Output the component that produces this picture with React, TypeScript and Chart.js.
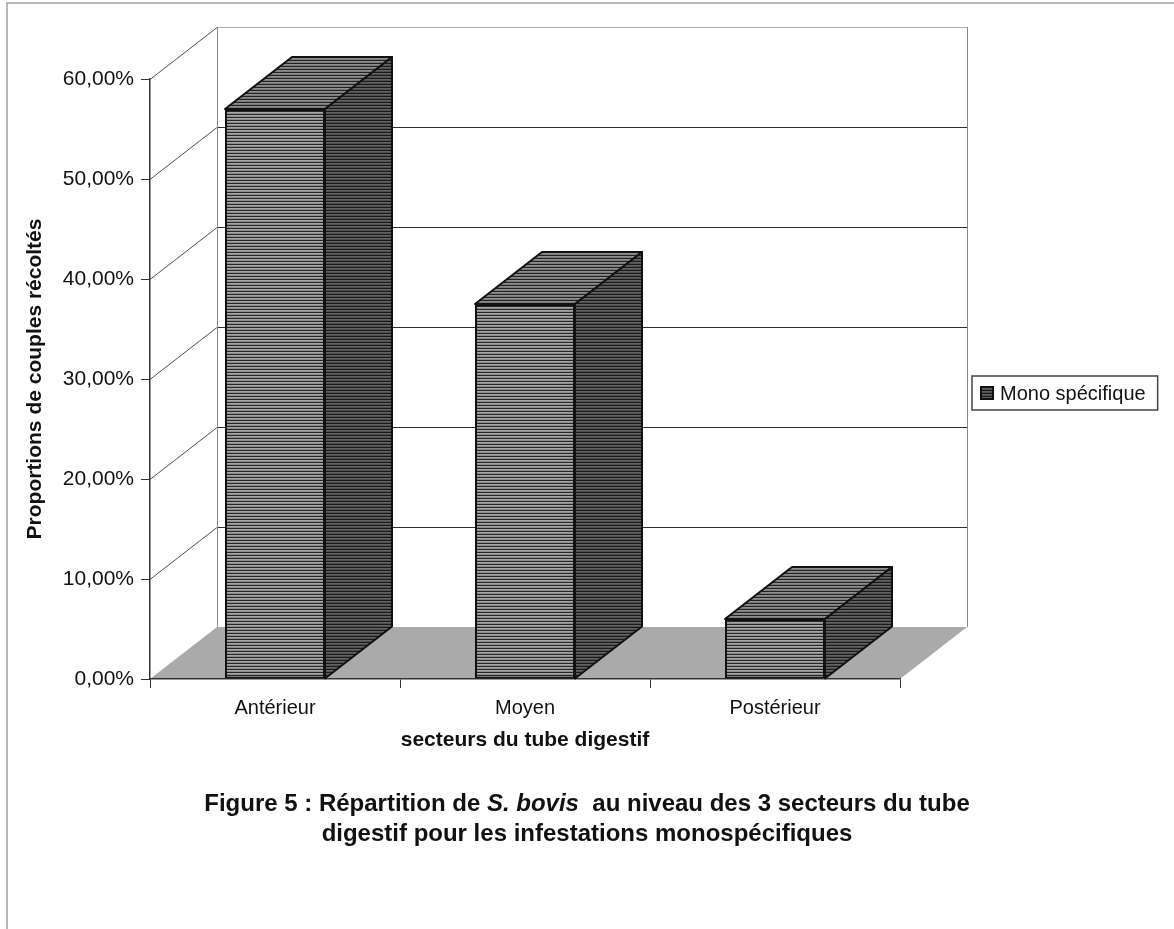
import React, { useEffect, useRef } from 'react';
import { Chart, registerables } from 'chart.js';

Chart.register(...registerables);

// ---- data ----
const categories = ['Antérieur', 'Moyen', 'Postérieur'];
const monoSpecifique = [0.57, 0.375, 0.06];
const seriesLabel = 'Mono spécifique';
const yMin = 0;
const yMax = 0.6;
const yStep = 0.1;
const xTitle = 'secteurs du tube digestif';
const yTitle = 'Proportions de couples récoltés';

// ---- 3D depth offset ----
const DX = 67;
const DY = -52;

const FONT = '"Liberation Sans", Arial, Helvetica, sans-serif';

function fmtPct(v: number) {
  return (v * 100).toFixed(2).replace('.', ',') + '%';
}

function makePattern(ctx: CanvasRenderingContext2D, rows: string[]) {
  const c = document.createElement('canvas');
  c.width = 4;
  c.height = rows.length;
  const g = c.getContext('2d')!;
  rows.forEach((col, i) => {
    g.fillStyle = col;
    g.fillRect(0, i, 4, 1);
  });
  return ctx.createPattern(c, 'repeat')!;
}

export default function App() {
  const ref = useRef<HTMLCanvasElement>(null);

  useEffect(() => {
    const canvas = ref.current!;
    const c2d = canvas.getContext('2d')!;
    const frontPat = makePattern(c2d, ['#262626', '#a6a6a6', '#8c8c8c']);
    const sidePat = makePattern(c2d, ['#1a1a1a', '#626262', '#505050']);
    const topPat = makePattern(c2d, ['#222222', '#8e8e8e', '#7a7a7a']);

    const poly = (ctx: CanvasRenderingContext2D, pts: number[][], fill: any) => {
      ctx.beginPath();
      ctx.moveTo(pts[0][0], pts[0][1]);
      for (let i = 1; i < pts.length; i++) ctx.lineTo(pts[i][0], pts[i][1]);
      ctx.closePath();
      ctx.fillStyle = fill;
      ctx.fill();
      ctx.stroke();
    };

    const scene3d = {
      id: 'scene3d',
      beforeDraw(chart: any) {
        const { ctx, chartArea: a, scales } = chart;
        const y = scales.y;
        ctx.save();
        ctx.fillStyle = '#ffffff';
        ctx.fillRect(0, 0, chart.width, chart.height);
        // outer frame (left & top)
        ctx.strokeStyle = '#a0a0a0';
        ctx.lineWidth = 1.5;
        ctx.beginPath();
        ctx.moveTo(7, chart.height);
        ctx.lineTo(7, 3);
        ctx.lineTo(chart.width, 3);
        ctx.stroke();

        const L = a.left;
        const R = a.right;
        const B = y.getPixelForValue(yMin);
        const T = y.getPixelForValue(yMax);
        // floor
        ctx.fillStyle = '#aaaaaa';
        ctx.beginPath();
        ctx.moveTo(L, B);
        ctx.lineTo(R, B);
        ctx.lineTo(R + DX, B + DY);
        ctx.lineTo(L + DX, B + DY);
        ctx.closePath();
        ctx.fill();

        // walls gridlines
        ctx.lineWidth = 1;
        y.ticks.forEach((t: any) => {
          const py = Math.round(y.getPixelForValue(t.value)) + 0.5;
          if (t.value <= yMin + 1e-9) return;
          ctx.strokeStyle = '#505050';
          ctx.beginPath();
          ctx.moveTo(L, py);
          ctx.lineTo(L + DX, py + DY);
          ctx.stroke();
          ctx.strokeStyle = t.value >= yMax - 1e-9 ? '#b0b0b0' : '#2e2e2e';
          ctx.beginPath();
          ctx.moveTo(L + DX, py + DY);
          ctx.lineTo(R + DX, py + DY);
          ctx.stroke();
        });
        // wall edges
        ctx.strokeStyle = '#8a8a8a';
        ctx.beginPath();
        ctx.moveTo(L + DX + 0.5, T + DY);
        ctx.lineTo(L + DX + 0.5, B + DY);
        ctx.moveTo(R + DX + 0.5, T + DY);
        ctx.lineTo(R + DX + 0.5, B + DY);
        ctx.stroke();
        ctx.restore();
      },
      afterDatasetsDraw(chart: any) {
        const { ctx } = chart;
        ctx.save();
        ctx.strokeStyle = '#111111';
        ctx.lineWidth = 2;
        ctx.lineJoin = 'round';
        chart.data.datasets.forEach((_: any, di: number) => {
          const meta = chart.getDatasetMeta(di);
          meta.data.forEach((bar: any) => {
            const { x, y: top, base, width } = bar.getProps(['x', 'y', 'base', 'width'], true);
            const l = x - width / 2;
            const r = x + width / 2;
            poly(ctx, [[l, top], [l + DX, top + DY], [r + DX, top + DY], [r, top]], topPat);
            poly(ctx, [[r, top], [r + DX, top + DY], [r + DX, base + DY], [r, base]], sidePat);
          });
        });
        ctx.restore();
      },
      afterDraw(chart: any) {
        const { ctx, chartArea: a } = chart;
        ctx.save();
        ctx.font = `20px ${FONT}`;
        const label = chart.data.datasets[0].label;
        const tw = ctx.measureText(label).width;
        const bx = a.right + 72;
        const by = a.top + 297;
        const bh = 34;
        const bw = 27 + tw + 13;
        ctx.strokeStyle = '#444';
        ctx.lineWidth = 1.5;
        ctx.fillStyle = '#fff';
        ctx.fillRect(bx, by, bw, bh);
        ctx.strokeRect(bx, by, bw, bh);
        // swatch
        ctx.fillStyle = sidePat;
        ctx.fillRect(bx + 9, by + 11, 12, 12);
        ctx.strokeStyle = '#111';
        ctx.lineWidth = 2;
        ctx.strokeRect(bx + 9, by + 11, 12, 12);
        ctx.fillStyle = '#111';
        ctx.textBaseline = 'middle';
        ctx.textAlign = 'left';
        ctx.fillText(label, bx + 28, by + bh / 2 + 1);
        ctx.restore();
      },
    };

    Chart.defaults.font.family = FONT;
    Chart.defaults.color = '#111';

    const chart = new Chart(canvas, {
      type: 'bar',
      data: {
        labels: categories,
        datasets: [
          {
            label: seriesLabel,
            data: monoSpecifique,
            backgroundColor: frontPat as any,
            borderColor: '#111111',
            borderWidth: 2,
            borderSkipped: false,
            barPercentage: 0.4,
            categoryPercentage: 1,
          },
        ],
      },
      options: {
        responsive: false,
        maintainAspectRatio: false,
        animation: false,
        devicePixelRatio: 1,
        layout: { padding: { left: 0, top: 79, right: 274, bottom: 160 } },
        plugins: {
          legend: { display: false },
          tooltip: { enabled: false },
          title: { display: false },
        },
        scales: {
          x: {
            type: 'category',
            offset: true,
            grid: {
              display: true,
              drawOnChartArea: false,
              drawTicks: true,
              tickLength: 9,
              color: '#333',
              offset: true,
            },
            border: { display: true, color: '#333', width: 1.5 },
            ticks: { color: '#111', font: { size: 20 }, padding: 8 },
            title: {
              display: true,
              text: xTitle,
              color: '#111',
              font: { size: 21, weight: 'bold' },
              padding: { top: 0, bottom: 16 },
            },
            afterFit(s: any) {
              s.height = 90;
            },
          },
          y: {
            type: 'linear',
            min: yMin,
            max: yMax,
            grid: {
              drawOnChartArea: false,
              drawTicks: true,
              tickLength: 9,
              color: '#333',
            },
            border: { display: true, color: '#333', width: 1.5 },
            ticks: {
              stepSize: yStep,
              color: '#111',
              font: { size: 21 },
              padding: 7,
              callback: (v: any) => fmtPct(Number(v)),
            },
            title: {
              display: true,
              text: yTitle,
              color: '#111',
              font: { size: 21, weight: 'bold' },
              padding: { top: 23, bottom: 0 },
            },
            afterFit(s: any) {
              s.width = 150;
            },
          },
        },
      },
      plugins: [scene3d],
    });

    return () => chart.destroy();
  }, []);

  return (
    <div style={{ position: 'absolute', left: 0, top: 0, width: 1174, height: 929, background: '#fff', overflow: 'hidden' }}>
      <canvas ref={ref} width={1174} height={929} style={{ display: 'block', width: 1174, height: 929 }} />
      <div
        style={{
          position: 'absolute',
          left: 0,
          top: 788,
          width: 1174,
          textAlign: 'center',
          fontFamily: FONT,
          fontWeight: 'bold',
          fontSize: 24,
          lineHeight: '30px',
          color: '#111',
        }}
      >
        Figure 5 : Répartition de <i>S. bovis</i>&nbsp; au niveau des 3 secteurs du tube
        <br />
        digestif pour les infestations monospécifiques
      </div>
    </div>
  );
}
